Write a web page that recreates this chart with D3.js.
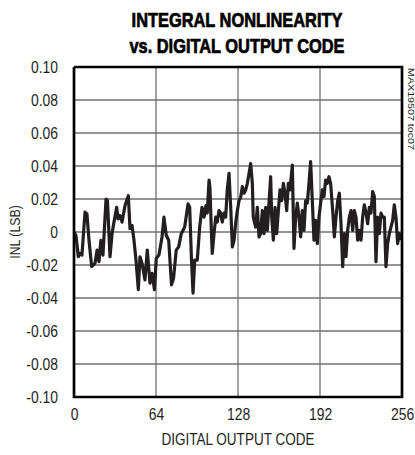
<!DOCTYPE html>
<html>
<head>
<meta charset="utf-8">
<script src="https://cdn.jsdelivr.net/npm/d3@7"></script>
<style>
  body { margin: 0; background: #fff; }
  svg text { font-family: "Liberation Sans", Arial, sans-serif; }
</style>
</head>
<body>
<div id="chart"></div>
<script>
// INL vs digital output code, vertices
const codes = [0,1.5,3.4,4.7,6.2,8.6,10.1,11.7,13.8,16.4,
  18,19.5,21,22.6,25,26.1,28.1,29.7,31.2,33.3,
  34.3,35.9,37.5,39.8,42.4,43.7,45.3,46.8,48.4,50.2,
  51.5,53.1,55.4,57.2,59.3,60.9,62.8,64.2,66.3,68.7,
  70.2,72,73.9,76.1,77.7,79.8,81.7,83.7,85.1,86.4,
  89,90.3,91.6,92.9,94.2,96.2,98.1,99.9,101.5,103,
  104,105.4,106.1,107.2,107.9,109.3,110.6,111.8,113.2,114.5,
  115.7,117.1,118.4,119.6,121,122.3,123.6,124.9,126.2,127.5,
  128.8,130.1,131.4,132.7,134,135.3,136.6,137.9,139.2,139.9,
  141.8,143.1,144.4,145.7,147,148.3,149.6,150.9,152.2,153.5,
  154.3,155.6,156.9,158.2,159.5,160.8,162.1,163.4,164.7,166,
  167.3,168.6,170.4,171.7,173,174.3,175.6,176.9,178.2,179.5,
  180.8,182.1,183.4,184.7,186,187.3,188.6,189.9,191.2,192.5,
  193.8,195.1,196.4,197.7,199,200.3,201.9,203.2,204.5,205.8,
  207.1,208.4,209.7,211,212.3,213.6,214.9,216.2,217.5,218.8,
  220.1,221.4,222.7,224,225.3,226.6,227.9,229.2,230.5,231.8,
  233.1,234.4,235.7,237,238.3,239.6,240.9,242.2,243.5,244.8,
  246.1,247.4,248.7,250,251.3,252.6,253.9,255];

const inl = [0,-0.002,-0.015,-0.013,-0.014,0.012,0.011,-0.005,-0.021,-0.019,
  -0.011,-0.018,-0.005,-0.014,0.020,0.019,-0.015,-0.001,0.006,0.015,
  0.008,0.010,0.006,0.016,0.022,0.002,0.004,-0.005,-0.017,-0.035,
  -0.015,-0.019,-0.029,-0.011,-0.031,-0.025,-0.035,-0.016,-0.014,-0.003,
  0.009,-0.002,-0.005,-0.032,-0.028,-0.011,-0.009,-0.001,0.001,0.003,
  0.017,0.015,-0.015,-0.037,-0.017,-0.017,0.003,0.015,0.009,0.016,
  0.0115,0.0315,0.027,0.001,-0.013,-0.001,0.009,0.006,0.013,0.0115,
  0.006,0.0115,0.009,0.0255,0.0355,0.015,-0.009,-0.005,0.0055,0.013,
  0.019,0.021,0.0275,0.0235,0.0255,0.0295,0.0355,0.0415,0.0295,0.009,
  0.003,0.015,-0.003,-0.001,0.013,-0.001,0.015,0.001,0.018,0.0335,
  0.009,-0.005,0.015,-0.001,0.013,0.0255,0.019,0.0295,0.0235,0.013,
  0.0295,0.0255,0.0406,-0.010,0.009,0.0175,0.009,-0.003,0.013,0.001,
  0.019,0.0175,0.0295,0.0426,0.019,-0.005,0.007,-0.007,0.009,0.0175,
  0.0255,0.0215,0.0315,0.0295,0.0335,0.0295,0.013,-0.003,0.009,0.019,
  0.0235,0.005,-0.021,-0.001,-0.015,0.001,0.009,0.013,0.001,0.013,
  0.009,-0.005,0.001,-0.005,0.009,0.0165,0.0115,0.005,0.015,0.0115,
  0.0245,0.0215,-0.018,0.009,-0.001,0.0115,0.009,0.009,-0.021,-0.007,
  -0.001,0.003,0.007,0.0165,0.009,-0.007,-0.001,-0.005];

const xTicks = [0, 64, 128, 192, 256];
const yTicks = [0.10, 0.08, 0.06, 0.04, 0.02, 0, -0.02, -0.04, -0.06, -0.08, -0.10];
const yTickLabels = ['0.10', '0.08', '0.06', '0.04', '0.02', '0', '-0.02', '-0.04', '-0.06', '-0.08', '-0.10'];
const titleLines = ['INTEGRAL NONLINEARITY', 'vs. DIGITAL OUTPUT CODE'];

const width = 415;
const height = 455;
const margin = { top: 67, right: 13, bottom: 58, left: 74 };
const narrow = 0.82; // squeeze Liberation Sans into a condensed face

const svg = d3.select('#chart')
  .append('svg')
  .attr('width', width)
  .attr('height', height);

const x = d3.scaleLinear()
  .domain([0, 256])
  .range([margin.left, width - margin.right]);

const y = d3.scaleLinear()
  .domain([-0.1, 0.1])
  .range([height - margin.bottom, margin.top]);

const line = d3.line()
  .x(d => x(d[0]))
  .y(d => y(d[1]));

// grid, as line paths in data space
const gridSegs = yTicks.map(t => [[0, t], [256, t]])
  .concat(xTicks.map(t => [[t, -0.1], [t, 0.1]]));

svg.append('g')
  .selectAll('path')
  .data(gridSegs)
  .join('path')
  .attr('d', line)
  .attr('fill', 'none')
  .attr('stroke', '#707070')
  .attr('stroke-width', 1.3);

// tick labels
svg.append('g')
  .attr('transform', `translate(0, ${y(-0.1)})`)
  .call(d3.axisBottom(x).tickValues(xTicks).tickSize(0).tickPadding(11).tickFormat(d3.format('d')))
  .call(g => g.select('.domain').remove())
  .selectAll('text')
  .attr('font-size', 17)
  .attr('font-family', null)
  .attr('fill', '#231f20')
  .attr('transform', `scale(${narrow},1)`);

svg.append('g')
  .attr('transform', `translate(${x(0)}, 0)`)
  .call(d3.axisLeft(y).tickValues(yTicks).tickSize(0).tickPadding(16 / narrow)
    .tickFormat((d, i) => yTickLabels[i]))
  .call(g => g.select('.domain').remove())
  .selectAll('text')
  .attr('font-size', 17)
  .attr('font-family', null)
  .attr('fill', '#231f20')
  .attr('transform', `scale(${narrow},1)`);

// data
svg.append('path')
  .datum(codes.map((c, i) => [c, inl[i]]))
  .attr('d', line)
  .attr('fill', 'none')
  .attr('stroke', '#231f20')
  .attr('stroke-width', 3.2)
  .attr('stroke-linejoin', 'round');

// frame
svg.append('path')
  .datum([[0, 0.1], [256, 0.1], [256, -0.1], [0, -0.1], [0, 0.1]])
  .attr('d', line)
  .attr('fill', 'none')
  .attr('stroke', '#000')
  .attr('stroke-width', 2.7)
  .attr('stroke-linejoin', 'miter');

// titles
svg.append('g')
  .selectAll('text')
  .data(titleLines)
  .enter()
  .append('text')
  .attr('transform', (d, i) => `translate(237, ${27 + i * 26}) scale(${narrow},1)`)
  .attr('text-anchor', 'middle')
  .attr('font-size', 20)
  .attr('font-weight', 'bold')
  .attr('stroke', '#000')
  .attr('stroke-width', 0.7)
  .attr('fill', '#000')
  .text(d => d);

svg.append('text')
  .attr('transform', `translate(${(x(0) + x(256)) / 2}, 445) scale(${narrow},1)`)
  .attr('text-anchor', 'middle')
  .attr('font-size', 16.5)
  .attr('fill', '#231f20')
  .text('DIGITAL OUTPUT CODE');

svg.append('text')
  .attr('transform', `translate(20, ${y(0)}) rotate(-90) scale(${narrow},1)`)
  .attr('text-anchor', 'middle')
  .attr('font-size', 15)
  .attr('fill', '#231f20')
  .text('INL (LSB)');

svg.append('text')
  .attr('transform', `translate(408, ${y(0.1) + 1}) rotate(90)`)
  .attr('text-anchor', 'start')
  .attr('font-size', 9)
  .attr('textLength', 82)
  .attr('lengthAdjust', 'spacingAndGlyphs')
  .attr('fill', '#231f20')
  .text('MAX19507 toc07');
</script>
</body>
</html>
